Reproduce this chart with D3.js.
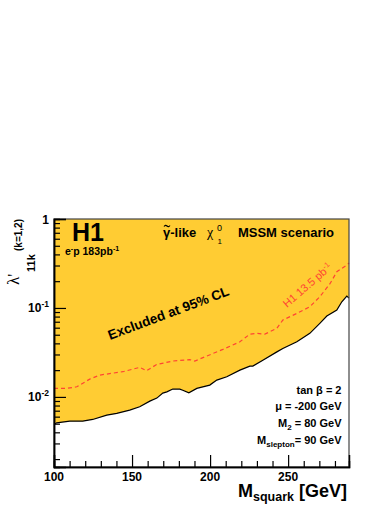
<!DOCTYPE html>
<html><head><meta charset="utf-8">
<script src="https://cdn.jsdelivr.net/npm/d3@7"></script>
<style>
body{margin:0;background:#fff;}
svg{display:block;font-family:"Liberation Sans",Arial,Helvetica,sans-serif;}
</style></head>
<body>
<svg id="c" width="392" height="508"></svg>
<script>
// Excluded limit (solid line): squark mass [GeV] vs lambda'_11k
const limitMass = [100,101.7,110.1,118.4,124.8,133.8,140.2,148.5,154.9,161.4,165.9,169.7,172.3,176.1,180.6,182.5,186.4,191.5,199.8,204.3,210.7,219.1,225.5,227.4,233.8,242.8,246.6,255.6,263.9,270.3,274.8,281.2,284.4,287.6,289];
const limitLambda = [0.00491,0.00511,0.00534,0.00534,0.00558,0.00624,0.00652,0.00711,0.00774,0.00897,0.0097,0.01104,0.0114,0.01225,0.01225,0.0119,0.0111,0.01247,0.01358,0.01546,0.01683,0.0200,0.0222,0.0222,0.0259,0.0321,0.0351,0.0417,0.0518,0.0671,0.0811,0.0947,0.1174,0.136,0.129];
// Previous H1 13.5 pb^-1 limit (dashed)
const oldMass = [100,108.1,114.6,122.9,129.3,144.1,155.0,159.3,165.7,176.1,187.0,190.2,197.9,208.2,219.1,225.5,230.0,235.1,242.8,246.6,255.6,263.9,270.3,276.7,281.2,287.6,289];
const oldLambda = [0.01246,0.01246,0.0130,0.01585,0.0176,0.0192,0.0215,0.0197,0.0231,0.0253,0.0263,0.0253,0.0288,0.0342,0.0417,0.0508,0.0518,0.0508,0.0590,0.0731,0.0869,0.1031,0.1336,0.186,0.255,0.304,0.320];
const xMajorTicks = [100,150,200,250];
const xMinorTicks = [110,120,130,140,160,170,180,190,210,220,230,240,260,270,280];
const yMajorTicks = [1,0.1,0.01];
const yMajorExp = ["", "-1", "-2"];
const paramLines = [
  {main:"tan \u03B2 = 2"},
  {main:"\u03BC  = -200 GeV"},
  {main:"M", sub:"2", rest:" = 80 GeV"},
  {main:"M", sub:"slepton", rest:"= 90 GeV"}
];

const svg = d3.select("#c");
const L=54, R=349, T=219, B=467;
const x = d3.scaleLinear().domain([100,289]).range([L,R]);
const y = d3.scaleLog().domain([0.00163,1]).range([B,T]);

const yMinor = [];
for (let e=-3;e<=-1;e++) for (let k=2;k<=9;k++){const v=k*Math.pow(10,e); if(v>=0.00163&&v<1) yMinor.push(v);}

const limitData = limitMass.map((m,i)=>({m, v:limitLambda[i]}));
const oldData = oldMass.map((m,i)=>({m, v:oldLambda[i]}));

svg.append("path").datum(limitData)
  .attr("d", d3.area().x(d=>x(d.m)).y0(y(1)).y1(d=>y(d.v)))
  .attr("fill","#FFCC33");
svg.append("path").datum(oldData)
  .attr("d", d3.line().x(d=>x(d.m)).y(d=>y(d.v)))
  .attr("fill","none").attr("stroke","#FF4433").attr("stroke-width",1.2).attr("stroke-dasharray","4,3");
svg.append("path").datum(limitData)
  .attr("d", d3.line().x(d=>x(d.m)).y(d=>y(d.v)))
  .attr("fill","none").attr("stroke","#000").attr("stroke-width",1.2);

// frame
svg.append("rect").attr("x",L).attr("y",T).attr("width",R-L).attr("height",B-T)
  .attr("fill","none").attr("stroke","#444").attr("stroke-width",1.2);

// axes
const gx = svg.append("g").attr("transform",`translate(0,${B})`);
gx.call(d3.axisBottom(x).tickValues(xMajorTicks).tickSize(-12).tickFormat(""));
const gx2 = svg.append("g").attr("transform",`translate(0,${B})`);
gx2.call(d3.axisBottom(x).tickValues(xMinorTicks).tickSize(-6).tickFormat(""));
const gy = svg.append("g").attr("transform",`translate(${L},0)`);
gy.call(d3.axisLeft(y).tickValues(yMajorTicks).tickSize(-12).tickFormat(""));
const gy2 = svg.append("g").attr("transform",`translate(${L},0)`);
gy2.call(d3.axisLeft(y).tickValues(yMinor).tickSize(-6).tickFormat(""));
svg.selectAll(".domain").attr("stroke","#000").attr("stroke-width",1.5);
svg.selectAll(".tick line").attr("stroke","#000").attr("stroke-width",1.2);

// x tick labels
svg.selectAll(".xl").data(xMajorTicks).enter().append("text")
  .attr("x",d=>x(d)).attr("y",B+14).attr("text-anchor","middle")
  .attr("font-weight","bold").attr("font-size",12).text(d=>d);
// y tick labels
yMajorTicks.forEach((v,i)=>{
  const t = svg.append("text").attr("x",49).attr("y",y(v)+4.5).attr("text-anchor","end")
    .attr("font-weight","bold").attr("font-size",12);
  if (yMajorExp[i]===""){ t.text("1"); }
  else {
    t.append("tspan").text("10");
    t.append("tspan").attr("dy",-5).attr("font-size",8.5).text(yMajorExp[i]);
  }
});

// x title
const xt = svg.append("text").attr("x",347).attr("y",497).attr("text-anchor","end")
  .attr("font-weight","bold").attr("font-size",18);
xt.append("tspan").text("M");
xt.append("tspan").attr("dy",4).attr("font-size",12.5).text("squark");
xt.append("tspan").attr("dy",-4).text(" [GeV]");

// y title
svg.append("text").attr("transform","translate(19,285) rotate(-90)")
  .attr("font-family","Liberation Serif, serif").attr("font-size",17).text("\u03BB'");
svg.append("text").attr("transform","translate(35,272) rotate(-90)")
  .attr("font-weight","bold").attr("font-size",11).text("11k");
svg.append("text").attr("transform","translate(22,251) rotate(-90)")
  .attr("font-weight","bold").attr("font-size",10).text("(k=1,2)");

// H1 label
svg.append("text").attr("x",72).attr("y",240.5).attr("font-weight","bold").attr("font-size",25).text("H1");
const ep = svg.append("text").attr("x",65).attr("y",255).attr("font-weight","bold").attr("font-size",10.5);
ep.append("tspan").text("e");
ep.append("tspan").attr("dy",-4).attr("font-size",7).text("-");
ep.append("tspan").attr("dy",4).text("p 183pb");
ep.append("tspan").attr("dy",-4).attr("font-size",7).text("-1");

// scenario title
svg.append("text").attr("x",163).attr("y",237).attr("font-weight","bold").attr("font-size",13).text("\u03B3-like");
svg.append("path").attr("d","M164,226.5 q1.5,-2 3,-0.5 t3,-0.5")
  .attr("fill","none").attr("stroke","#000").attr("stroke-width",1.1);
svg.append("text").attr("x",207).attr("y",237).attr("font-family","Liberation Serif, serif").attr("font-size",14).text("\u03C7");
svg.append("text").attr("x",217).attr("y",231).attr("font-size",9).text("0");
svg.append("text").attr("x",217.5).attr("y",244).attr("font-size",8).text("1");
svg.append("text").attr("x",334).attr("y",237).attr("text-anchor","end").attr("font-weight","bold").attr("font-size",13).text("MSSM scenario");

// Excluded label
svg.append("text").attr("transform","translate(110,340) rotate(-20.6)")
  .attr("font-weight","bold").attr("font-size",13.5).text("Excluded at 95% CL");

// H1 13.5 label
const h1o = svg.append("text").attr("transform","translate(287,308) rotate(-41)")
  .attr("fill","#FF4433").attr("font-size",11);
h1o.append("tspan").text("H1 13.5 pb");
h1o.append("tspan").attr("dy",-4).attr("font-size",7.5).text("-1");

// parameter block
const pY = [393.5,410,426.5,443.5];
paramLines.forEach((p,i)=>{
  const t = svg.append("text").attr("x",341.5).attr("y",pY[i]).attr("text-anchor","end")
    .attr("font-weight","bold").attr("font-size",11);
  t.append("tspan").text(p.main);
  if (p.sub){
    t.append("tspan").attr("dy",3).attr("font-size",8).text(p.sub);
    t.append("tspan").attr("dy",-3).text(p.rest);
  }
});
</script>
</body></html>
